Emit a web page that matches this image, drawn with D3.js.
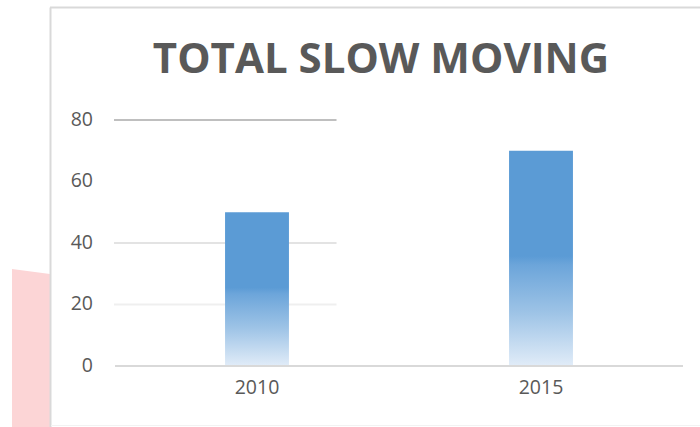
<!DOCTYPE html>
<html>
<head>
<meta charset="utf-8">
<script src="https://cdn.jsdelivr.net/npm/d3@7"></script>
<style>
  body { margin: 0; background: #fff; }
  text { font-family: 'Open Sans', sans-serif; fill: #595959; }
</style>
</head>
<body>
<div id="chart"></div>
<script>
const title = 'TOTAL SLOW MOVING'
const years = ['2010', '2015']
const totals = [50, 70]
const yTicks = [0, 20, 40, 60, 80]

const width = 700
const height = 427

const svg = d3
  .select('#chart')
  .append('svg')
  .attr('width', width)
  .attr('height', height)

// pink shape peeking out on the left
svg
  .append('path')
  .attr('d', 'M12,269 L50,274 L50,427 L12,427 Z')
  .attr('fill', '#fcd5d6')

// chart frame
svg.append('line')
  .attr('x1', 50.5).attr('x2', 50.5).attr('y1', 7.5).attr('y2', 427)
  .attr('stroke', '#d9d9d9').attr('stroke-width', 2)
svg.append('line')
  .attr('x1', 50).attr('x2', 700).attr('y1', 7.5).attr('y2', 7.5)
  .attr('stroke', '#d9d9d9').attr('stroke-width', 2)
svg.append('line')
  .attr('x1', 51).attr('x2', 700).attr('y1', 425.5).attr('y2', 425.5)
  .attr('stroke', '#f2f2f2').attr('stroke-width', 1)

svg
  .append('text')
  .attr('x', 381)
  .attr('y', 73)
  .attr('text-anchor', 'middle')
  .attr('font-size', 42)
  .attr('font-weight', 'bold')
  .text(title)

const x = d3.scaleBand().domain(years).range([115, 683])
const y = d3.scaleLinear().domain([0, 80]).range([366, 120])

// gradient like excel's
const defs = svg.append('defs')
const grad = defs
  .append('linearGradient')
  .attr('id', 'barGrad')
  .attr('x1', 0).attr('x2', 0).attr('y1', 0).attr('y2', 1)
const stops = [
  ['0%', '#5b9bd5'],
  ['49%', '#5b9bd5'],
  ['53%', '#6ca5da'],
  ['75%', '#9dc3e6'],
  ['100%', '#e1ecf8']
]
stops.forEach(s => grad.append('stop').attr('offset', s[0]).attr('stop-color', s[1]))

const gridColor = d => (d === 80 ? '#bfbfbf' : d === 40 ? '#e3e3e3' : d === 20 ? '#efefef' : 'none')

svg
  .selectAll('.grid')
  .data(yTicks.filter(d => d > 0))
  .enter()
  .append('line')
  .attr('class', 'grid')
  .attr('x1', 114)
  .attr('x2', x('2010') + x.bandwidth() * 0.78)
  .attr('y1', d => y(d))
  .attr('y2', d => y(d))
  .attr('stroke', gridColor)
  .attr('stroke-width', 2)

svg
  .selectAll('.tick-label')
  .data(yTicks)
  .enter()
  .append('text')
  .attr('class', 'tick-label')
  .attr('x', 93)
  .attr('y', d => y(d))
  .attr('dy', '0.3em')
  .attr('text-anchor', 'end')
  .attr('font-size', 19.5)
  .text(d => d)

const barW = x.bandwidth() * 0.225

svg
  .selectAll('.bar')
  .data(totals)
  .enter()
  .append('rect')
  .attr('class', 'bar')
  .attr('x', (d, i) => x(years[i]) + x.bandwidth() / 2 - barW / 2)
  .attr('y', d => y(d))
  .attr('width', barW)
  .attr('height', d => y(0) - y(d))
  .attr('fill', 'url(#barGrad)')

svg
  .append('line')
  .attr('x1', 115)
  .attr('x2', 683)
  .attr('y1', y(0))
  .attr('y2', y(0))
  .attr('stroke', '#d9d9d9')
  .attr('stroke-width', 2)

svg
  .selectAll('.year')
  .data(years)
  .enter()
  .append('text')
  .attr('class', 'year')
  .attr('x', d => x(d) + x.bandwidth() / 2)
  .attr('y', 394)
  .attr('text-anchor', 'middle')
  .attr('font-size', 19.5)
  .text(d => d)
</script>
</body>
</html>
